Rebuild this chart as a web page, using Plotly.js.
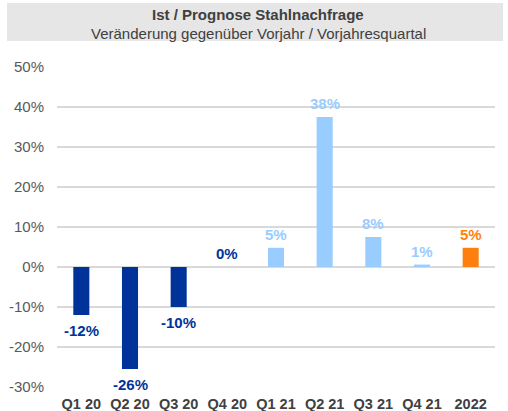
<!DOCTYPE html>
<html><head><meta charset="utf-8">
<script src="https://cdn.plot.ly/plotly-3.0.1.min.js"></script>
<style>html,body{margin:0;padding:0;background:#fff}#chart{width:508px;height:411px}</style>
</head><body><div id="chart"></div>
<script>
var categories = ["Q1 20","Q2 20","Q3 20","Q4 20","Q1 21","Q2 21","Q3 21","Q4 21","2022"];
var values = [-12, -25.5, -10, 0, 4.8, 37.5, 7.5, 0.6, 4.8];
var labels = ["-12%","-26%","-10%","0%","5%","38%","8%","1%","5%"];
var barColors = ["#003399","#003399","#003399","#003399","#99CCFF","#99CCFF","#99CCFF","#99CCFF","#FF7F0E"];
var yTickVals = [-30,-20,-10,0,10,20,30,40,50];
var yTickText = ["-30%","-20%","-10%","0%","10%","20%","30%","40%","50%"];
var titleText = "Ist / Prognose Stahlnachfrage";
var subtitleText = "Veränderung gegenüber Vorjahr / Vorjahresquartal";

var FONT = "Liberation Sans, Arial, sans-serif";
var annotations = categories.map(function(c, i){
  var v = values[i];
  return {x: i, y: v, xref: 'x', yref: 'y', text: '<b>' + labels[i] + '</b>', showarrow: false,
    yanchor: v >= 0 ? 'bottom' : 'top', yshift: v >= 0 ? 3 : -5,
    font: {family: FONT, size: 15, color: barColors[i]}};
});
annotations.push({xref:'paper', yref:'paper', x: (258-57)/438, y: (387-15)/320, text: '<b>'+titleText+'</b>', showarrow:false,
  xanchor:'center', yanchor:'middle', font:{family:FONT, size:15, color:'#404040'}});
annotations.push({xref:'paper', yref:'paper', x: (258-57)/438, y: (387-33)/320, text: subtitleText, showarrow:false,
  xanchor:'center', yanchor:'middle', font:{family:FONT, size:15, color:'#404040'}});

var trace = {type:'bar', x: categories, y: values, marker:{color: barColors}, width: 0.33, hoverinfo:'skip'};

var layout = {
  width: 508, height: 411,
  margin: {l:57, r:13, t:67, b:24},
  paper_bgcolor:'#fff', plot_bgcolor:'#fff',
  showlegend:false,
  font:{family:FONT},
  xaxis:{type:'category', range:[-0.5, categories.length-0.5], autorange:false, showgrid:false, showline:false, zeroline:false, ticks:'',
    tickfont:{family:FONT, size:14.5, color:'#404040', weight:'bold'}, ticklabelstandoff: 6, fixedrange:true},
  yaxis:{range:[-30,50], autorange:false, tickvals:yTickVals, ticktext:yTickText, showgrid:true, gridcolor:'#D9D9D9', gridwidth:1.3,
    zeroline:true, zerolinecolor:'#D9D9D9', zerolinewidth:1.5, showline:false, ticks:'',
    tickfont:{family:FONT, size:15, color:'#595959'}, ticklabelstandoff: 12, fixedrange:true},
  shapes:[{type:'rect', xref:'paper', yref:'paper', x0:(7-57)/438, x1:(503-57)/438, y0:(387-41)/320, y1:(387-3)/320,
    fillcolor:'#E6E6E6', line:{width:0}, layer:'below'}],
  annotations: annotations
};
Plotly.newPlot('chart', [trace], layout, {displayModeBar:false, staticPlot:true});
</script></body></html>
